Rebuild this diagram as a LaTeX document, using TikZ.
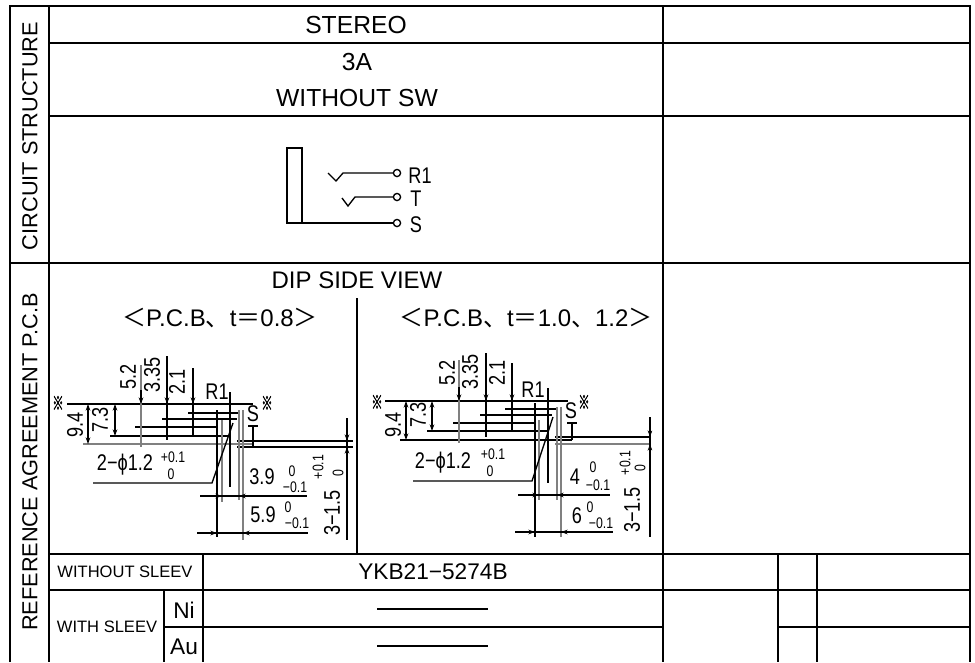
\documentclass[tikz,border=0pt]{standalone}
\usepackage{fontspec}
\setmainfont{Liberation Sans}
\newfontfamily\cjk{Noto Sans CJK JP}
\newfontfamily\markfont[FakeStretch=0.6,FakeBold=2]{Noto Sans CJK JP}
\newfontfamily\dimfont[FakeStretch=0.8]{Liberation Sans}
\usetikzlibrary{arrows.meta}
\tikzset{
    gridline/.style={line width=1.5pt},
    thin line/.style={line width=1pt},
    gray line/.style={line width=2pt, black!50},
    dimtip/.style={line width=1pt, -{Stealth[length=5pt,width=3.5pt]}},
    cell/.style={inner sep=0pt, font=\fontsize{18.5}{20}\selectfont},
    title cell/.style={inner sep=0pt, font=\fontsize{18}{20}\selectfont},
    big cell/.style={inner sep=0pt, font=\fontsize{16.3}{18}\selectfont},
    large cell/.style={inner sep=0pt, font=\fontsize{17}{19}\selectfont},
    small cell/.style={inner sep=0pt, font=\fontsize{12.4}{14}\selectfont},
    dim/.style={inner sep=0pt, font=\dimfont\fontsize{17}{19}\selectfont},
    tol/.style={inner sep=0pt, font=\dimfont\fontsize{11.5}{12}\selectfont},
    mark sign/.style={inner sep=0pt, font=\markfont\fontsize{14}{15}\selectfont},
}
\begin{document}
\begin{tikzpicture}[x=0.75pt, y=-0.75pt]
    \useasboundingbox (0,0) rectangle (975,662);
    % table
    \draw[gridline] (10,662) -- (10,6) -- (970,6) -- (970,662);
    \draw[gridline] (49,6) -- (49,662);
    \draw[gridline] (663,6) -- (663,662);
    \draw[gridline] (164,590) -- (164,662);
    \draw[gridline] (203,554) -- (203,662);
    \draw[gridline] (778,554) -- (778,662);
    \draw[gridline] (817,554) -- (817,662);
    \draw[gridline] (357,298) -- (357,554);
    \draw[gridline] (49,43) -- (970,43);
    \draw[gridline] (49,116) -- (970,116);
    \draw[gridline] (10,263) -- (970,263);
    \draw[gridline] (49,554) -- (970,554);
    \draw[gridline] (49,590) -- (970,590);
    \draw[gridline] (164,627) -- (663,627);
    \draw[gridline] (778,627) -- (970,627);
    \node[big cell, rotate=90] (circuit) at (30,136) {CIRCUIT STRUCTURE};
    \node[big cell, rotate=90] (agreement) at (30,462) {REFERENCE AGREEMENT P.C.B};
    \node[cell] (stereo) at (356,25) {STEREO};
    \node[cell] (amp) at (357,62) {3A};
    \node[cell] (nosw) at (357,98) {WITHOUT SW};
    \node[title cell] (dip) at (357,280) {DIP SIDE VIEW};
    \node[title cell] (pcb1) at (220,318) {\cjk＜\normalfont P.C.B\cjk、\normalfont t\cjk＝\normalfont 0.8\cjk＞};
    \node[title cell] (pcb2) at (526,318) {\cjk＜\normalfont P.C.B\cjk、\normalfont t\cjk＝\normalfont 1.0\cjk、\normalfont 1.2\cjk＞};
    \node[small cell] (nosleev) at (125,572) {WITHOUT SLEEV};
    \node[small cell] (sleev) at (107,627) {WITH SLEEV};
    \node[large cell] (ni) at (184,610) {Ni};
    \node[large cell] (au) at (184,647) {Au};
    \node[large cell] (model) at (433,572) {YKB21−5274B};
    \draw[thin line] (377,609) -- (488,609);
    \draw[thin line] (377,646) -- (488,646);
    % circuit
    \draw[thin line] (287,148) rectangle (302,223);
    \coordinate (sl) at (302,223);
    \node[circle, draw, thin line, inner sep=1.9pt] (r1o) at (397,173) {};
    \node[circle, draw, thin line, inner sep=1.9pt] (to) at (397,197) {};
    \node[circle, draw, thin line, inner sep=1.9pt] (so) at (397,223) {};
    \draw[thin line] (328,173) -- (336,181) -- (343,173) -- (r1o);
    \draw[thin line] (342,198) -- (348,206) -- (355,197) -- (to);
    \draw[thin line] (sl) -- (so);
    \node[dim] (r1) at (420,176) {R1};
    \node[dim] (t) at (416,199) {T};
    \node[dim] (s) at (416,225) {S};
    % left view
    \begin{scope}
    \clip (50,345) rectangle (356,540);
    \draw[thin line] (67,404) -- (253,404);
    \draw[gray line] (83,444) -- (253,444);
    \draw[thin line] (110,436) -- (230,436);
    \draw[thin line] (135,427) -- (217,427);
    \draw[thin line] (162,419) -- (237,419);
    \draw[thin line] (188,413) -- (240,413);
    \draw[thin line] (237,441) -- (353,441);
    \draw[thin line] (237,447) -- (353,447);
    \draw[gray line] (141,365) -- (141,447);
    \draw[thin line] (167,356) -- (167,440);
    \draw[thin line] (193,368) -- (193,435);
    \draw[thin line] (217,410) -- (217,537);
    \draw[gray line] (222,420) -- (222,502);
    \draw[thin line] (230,392) -- (230,487);
    \draw[gray line] (239,410) -- (239,500);
    \draw[gray line] (243,410) -- (243,540);
    \draw[thin line] (93,483) -- (212,483) -- (233,423);
    \draw[thin line] (200,496) -- (307,496);
    \draw[thin line] (197,533) -- (308,533);
    \draw[thin line] (248,426) -- (258,426);
    \draw[thin line] (253,426) -- (253,447);
    \draw[thin line] (347,418) -- (347,540);
    \draw[dimtip] (141,390) -- (141,404);
    \draw[dimtip] (167,390) -- (167,404);
    \draw[dimtip] (193,390) -- (193,404);
    \draw[dimtip] (88,424) -- (88,404);
    \draw[dimtip] (88,424) -- (88,444);
    \draw[dimtip] (115,420) -- (115,404);
    \draw[dimtip] (115,420) -- (115,436);
    \draw[dimtip] (200,496) -- (222,496);
    \draw[dimtip] (260,496) -- (239,496);
    \draw[dimtip] (197,533) -- (217,533);
    \draw[dimtip] (265,533) -- (243,533);
    \draw[dimtip] (347,425) -- (347,441);
    \draw[dimtip] (347,463) -- (347,447);
    \node[dim, rotate=90] (a52) at (128,377) {5.2};
    \node[dim, rotate=90] (a335) at (152,375) {3.35};
    \node[dim, rotate=90] (a21) at (177,382) {2.1};
    \node[dim, rotate=90] (a94) at (75,425) {9.4};
    \node[dim, rotate=90] (a73) at (100,420) {7.3};
    \node[dim] (ar1) at (217,392) {R1};
    \node[dim] (as) at (253,414) {S};
    \node[mark sign] (amark1) at (58,403) {※};
    \node[mark sign] (amark2) at (267,403) {※};
    \node[dim] (ahole) at (125,465) {2−ϕ1.2};
    \node[tol] (aholep) at (173,457) {+0.1};
    \node[tol] (aholem) at (171,474) {0};
    \node[dim] (a39) at (262,477) {3.9};
    \node[tol] (a39p) at (292,471) {0};
    \node[tol] (a39m) at (295,487) {−0.1};
    \node[dim] (a59) at (263,515) {5.9};
    \node[tol] (a59p) at (288,507) {0};
    \node[tol] (a59m) at (297,523) {−0.1};
    \node[dim, rotate=90] (a15) at (332,513) {3−1.5};
    \node[tol, rotate=90] (a15p) at (318,467) {+0.1};
    \node[tol, rotate=90] (a15m) at (338,473) {0};
    \end{scope}
    % right view
    \begin{scope}
    \clip (358,345) rectangle (652,537);
    \draw[thin line] (385,401) -- (568,401);
    \draw[thin line] (400,440) -- (572,440);
    \draw[thin line] (427,431) -- (547,431);
    \draw[thin line] (453,423) -- (535,423);
    \draw[thin line] (480,415) -- (552,415);
    \draw[thin line] (505,409) -- (558,409);
    \draw[thin line] (555,437) -- (650,437);
    \draw[gray line] (555,444) -- (650,444);
    \draw[gray line] (459,360) -- (459,443);
    \draw[thin line] (486,353) -- (486,437);
    \draw[thin line] (512,363) -- (512,431);
    \draw[thin line] (535,403) -- (535,537);
    \draw[gray line] (539,420) -- (539,500);
    \draw[thin line] (548,388) -- (548,483);
    \draw[gray line] (557,407) -- (557,500);
    \draw[gray line] (561,407) -- (561,537);
    \draw[thin line] (413,481) -- (532,481) -- (553,417);
    \draw[thin line] (518,495) -- (610,495);
    \draw[thin line] (515,532) -- (613,532);
    \draw[thin line] (567,423) -- (577,423);
    \draw[thin line] (572,423) -- (572,440);
    \draw[thin line] (650,417) -- (650,537);
    \draw[dimtip] (459,387) -- (459,401);
    \draw[dimtip] (486,387) -- (486,401);
    \draw[dimtip] (512,387) -- (512,401);
    \draw[dimtip] (406,420) -- (406,401);
    \draw[dimtip] (406,420) -- (406,440);
    \draw[dimtip] (432,416) -- (432,401);
    \draw[dimtip] (432,416) -- (432,431);
    \draw[dimtip] (518,495) -- (539,495);
    \draw[dimtip] (578,495) -- (557,495);
    \draw[dimtip] (515,532) -- (535,532);
    \draw[dimtip] (583,532) -- (561,532);
    \draw[dimtip] (650,421) -- (650,437);
    \draw[dimtip] (650,460) -- (650,444);
    \node[dim, rotate=90] (b52) at (447,373) {5.2};
    \node[dim, rotate=90] (b335) at (470,372) {3.35};
    \node[dim, rotate=90] (b21) at (497,373) {2.1};
    \node[dim, rotate=90] (b94) at (393,425) {9.4};
    \node[dim, rotate=90] (b73) at (418,415) {7.3};
    \node[dim] (br1) at (533,390) {R1};
    \node[dim] (bs) at (571,411) {S};
    \node[mark sign] (bmark1) at (377,402) {※};
    \node[mark sign] (bmark2) at (584,402) {※};
    \node[dim] (bhole) at (443,463) {2−ϕ1.2};
    \node[tol] (bholep) at (493,454) {+0.1};
    \node[tol] (bholem) at (490,471) {0};
    \node[dim] (b4) at (575,477) {4};
    \node[tol] (b4p) at (593,467) {0};
    \node[tol] (b4m) at (598,485) {−0.1};
    \node[dim] (b6) at (577,516) {6};
    \node[tol] (b6p) at (590,507) {0};
    \node[tol] (b6m) at (601,523) {−0.1};
    \node[dim, rotate=90] (b15) at (632,510) {3−1.5};
    \node[tol, rotate=90] (b15p) at (625,463) {+0.1};
    \node[tol, rotate=90] (b15m) at (640,468) {0};
    \end{scope}
\end{tikzpicture}
\end{document}
